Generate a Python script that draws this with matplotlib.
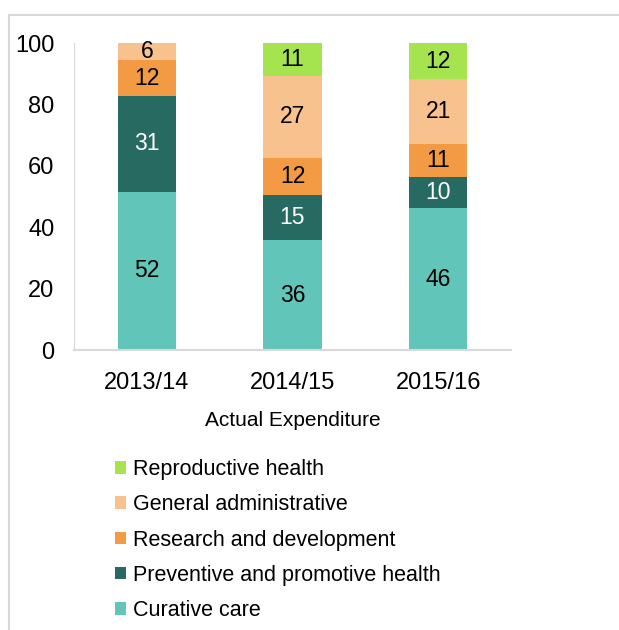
import matplotlib
matplotlib.use("Agg")
from matplotlib import pyplot as plt
from matplotlib.lines import Line2D

years = ["2013/14", "2014/15", "2015/16"]
curative = [51.6, 35.8, 46.2]
preventive = [31.2, 14.6, 10.0]
research = [11.6, 12.2, 11.0]
general = [5.6, 26.8, 21.0]
reproductive = [0.0, 10.6, 11.8]

series = [
    ("Curative care", curative, "#62C5BA", "black"),
    ("Preventive and promotive health", preventive, "#276A62", "white"),
    ("Research and development", research, "#F29B44", "black"),
    ("General administrative", general, "#F7C28E", "black"),
    ("Reproductive health", reproductive, "#A6E44F", "black"),
]

plt.rcParams["font.family"] = ["Liberation Sans", "DejaVu Sans"]

fig = plt.figure(figsize=(6.19, 6.30), dpi=100)
ax = fig.add_axes([0.1195, 0.4444, 0.706, 0.4873])

x = list(range(len(years)))
bottom = [0.0] * len(years)
handles = []
for name, vals, col, tcol in series:
    bars = ax.bar(x, vals, 0.4, bottom=bottom, color=col, label=name)
    for i, v in enumerate(vals):
        if v > 0:
            ax.text(x[i], bottom[i] + v / 2, "%d" % round(v), ha="center", va="center",
                    fontsize=16.5, color=tcol)
    bottom = [b + v for b, v in zip(bottom, vals)]
    handles.append(bars)

ax.set_xlim(-0.5, 2.5)
ax.set_ylim(0, 100)
ax.set_yticks([0, 20, 40, 60, 80, 100])
ax.set_xticks(x)
ax.set_xticklabels(years)
ax.tick_params(length=0, labelsize=17, pad=14)
ax.tick_params(axis="x", pad=16)
ax.set_xlabel("Actual Expenditure", fontsize=15, labelpad=12)
for s in ["top", "right"]:
    ax.spines[s].set_visible(False)
ax.spines["left"].set_color("#d9d9d9")
ax.spines["bottom"].set_color("#d9d9d9")
ax.spines["bottom"].set_linewidth(1.5)

fig.legend(handles[::-1], [s[0] for s in series][::-1], loc="upper left",
           bbox_to_anchor=(0.154, 0.302), frameon=False, fontsize=15.5,
           handlelength=0.52, handleheight=0.52, handletextpad=0.35, labelspacing=0.66)

fig.add_artist(Line2D([9 / 619, 1], [1 - 15 / 630, 1 - 15 / 630], color="#d9d9d9", lw=1.5))
fig.add_artist(Line2D([9 / 619, 9 / 619], [0, 1 - 15 / 630], color="#d9d9d9", lw=1.5))

plt.savefig("out.png")
